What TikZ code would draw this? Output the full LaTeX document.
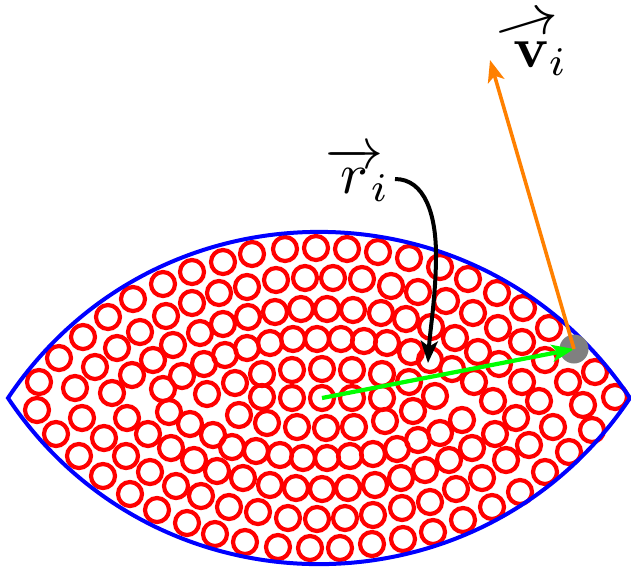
\documentclass[tikz,border=0pt]{standalone}
\usepackage{amsmath}
\usepackage{graphicx}
\usetikzlibrary{arrows.meta}
\definecolor{orng}{RGB}{255,128,0}
\definecolor{grn}{RGB}{0,255,0}
\begin{document}
\begin{tikzpicture}[x=0.5pt,y=-0.5pt,
  ring/.style={draw=red,line width=2.1pt},
  lens/.style={draw=blue,line width=2pt},
  tip/.style={-{Stealth[length=11pt,width=8.5pt,inset=2.8pt]}},
  lbl/.style={inner sep=0pt}]
\useasboundingbox (0,0) rectangle (631,569);
\foreach \p in {
(192,272),(163,284),(133,299),(108,317),(83,337),(59,358),(39,382),
(192,303),(166,316),(140,332),(117,348),(95,367),(75,388),
(200,333),(173,345),(153,360),(132,375),(112,393),
(182,376),(204,364),(163,389),(207,394),
(37,410),(82,418),(127,418),(169,412),(190,424),(213,435),
(56,434),(104,438),(148,434),(171,448),(194,460),
(79,456),(126,456),(150,472),(176,486),
(103,476),(130,494),(157,510),(187,523),(201,496),(215,534),(217,471),
(223,262),(252,254),(285,249),(316,248),(347,249),(378,252),(409,258),
(219,293),(247,287),(276,280),(305,278),(333,278),(362,279),(391,286),(418,292),
(223,324),(248,317),(275,312),(301,309),(327,309),(353,310),(381,313),(406,319),
(225,355),(247,348),(270,343),(293,339),(317,339),(341,339),(364,341),(387,343),(411,352),
(235,383),(262,374),(292,370),(322,369),(352,370),(382,374),(409,382),
(262,397),(292,398),(322,398),(352,398),(382,398),
(239,415),(267,423),(297,427),(326,428),(354,427),(385,421),(413,411),
(232,447),(256,451),(280,455),(303,458),(327,458),(350,456),(373,454),(397,449),(418,440),
(243,478),(270,485),(296,488),(322,489),(348,488),(375,485),(401,478),(425,470),
(229,507),(258,512),(288,518),(317,519),(345,518),(373,515),(402,508),(430,502),
(245,542),(278,547),(310,548),(340,548),(372,544),(403,539),(433,532),
(440,267),(468,279),(497,293),(523,308),(549,328),
(446,301),(473,313),(498,328),(522,342),
(431,327),(455,338),(478,352),
(430,360),(452,369),(474,382),(499,364),(545,360),(568,382),(595,372),(615,397),(522,382),
(435,396),(493,401),(539,401),(583,405),
(462,420),(516,418),(553,427),(592,430),
(440,433),(495,434),
(472,448),(529,445),(569,452),
(449,460),(506,460),
(482,478),(545,472),
(456,489),(520,492),
(492,507),
(463,520)}
  \draw[ring] \p circle[radius=12];
\draw[lens] (8,398) .. controls (156.2,176.5) and (481.8,176.5) .. (630,398)
  .. controls (481.8,619.5) and (156.2,619.5) .. cycle;
\node[fill=gray,circle,inner sep=0pt,minimum size=14.5pt] (p) at (574,349) {};
\coordinate (c) at (322,398);
\coordinate (vt) at (490,60);
\coordinate (rs) at (395,179);
\coordinate (rt) at (428,363);
\draw[tip,grn,line width=2.1pt] (c) -- (p.center);
\draw[tip,orng,line width=1.8pt] (p.center) -- (vt);
\node[lbl,anchor=base west] (rl) at (325,193) {\scalebox{2.9}{$\overrightarrow{r}\mkern-4mu{}_i$}};
\node[lbl,anchor=base west] (vl) at (513,67) {\scalebox{2.9}{\rlap{\hbox to 6.07pt{\hss\raisebox{5pt}{\rotatebox[origin=c]{17}{\scalebox{1.12}[1]{$\rightarrow$}}}\hss\kern1pt}}$\mathbf{v}_i$}};
\draw[tip,line width=2pt] (rs) .. controls (425,179) and (436,215) .. (436,255)
  .. controls (436,295) and (430,330) .. (rt);
\end{tikzpicture}
\end{document}
